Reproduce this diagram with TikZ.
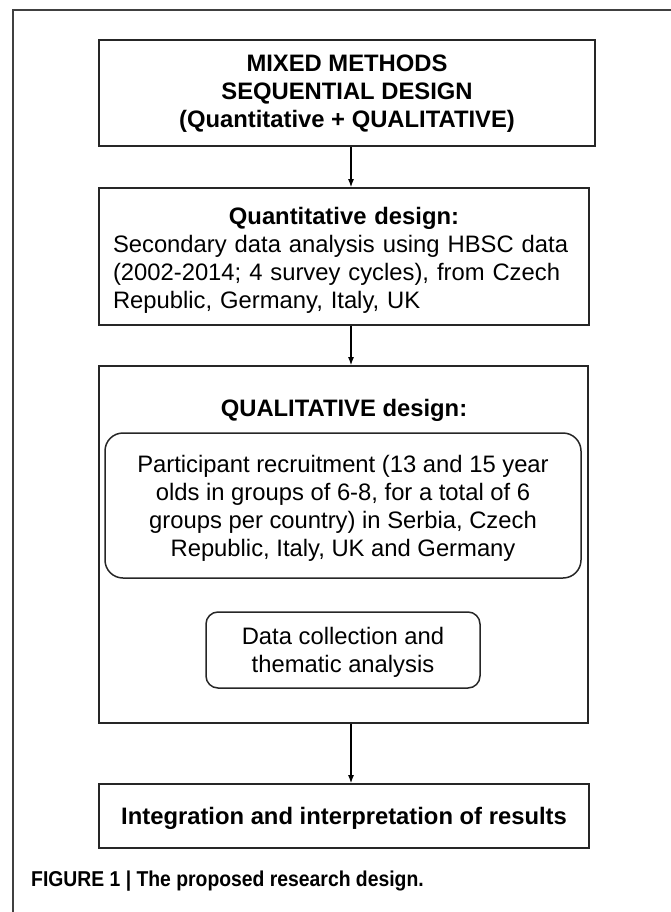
\documentclass[tikz,border=0pt]{standalone}
\usepackage{fontspec}
\setmainfont{Liberation Sans}
\newfontfamily\capfont[FakeStretch=0.9]{Liberation Sans}
\usetikzlibrary{arrows.meta}
\begin{document}
\begin{tikzpicture}[x=1pt,y=-1pt,
  box/.style={draw=black!85, line width=1.7pt, rectangle, inner sep=0pt},
  rbox/.style={draw=black!85, line width=1.5pt, rectangle, inner sep=0pt},
  txt/.style={font=\fontsize{23.8}{28}\selectfont, align=center, inner sep=0pt},
  btxt/.style={font=\fontsize{23.8}{28}\selectfont\bfseries, align=center, inner sep=0pt},
  arr/.style={draw=black, line width=1.2pt, -{Latex[length=8pt,width=6pt]}}]
\useasboundingbox (0,0) rectangle (671,912);
% outer frame
\draw[black!75, line width=1.6pt] (13,915) -- (13,10) -- (675,10);
% boxes
\node[box, minimum width=496pt, minimum height=106pt] (b1) at (347,93) {};
\node[btxt] (t1) at (347,94) {MIXED METHODS\\SEQUENTIAL DESIGN\\(Quantitative + QUALITATIVE)};
\node[box, minimum width=490pt, minimum height=137pt] (b2) at (344,256.5) {};
\node[txt, text width=462pt, align=left] (t2) at (344,260) {\makebox[\linewidth]{\bfseries Quantitative design:}\\Secondary data analysis using HBSC data\\(2002-2014; 4 survey cycles), from Czech\\Republic, Germany, Italy, UK};
\node[box, minimum width=489pt, minimum height=357pt] (b3) at (343.5,544.5) {};
\node[btxt] (t3) at (344,410) {QUALITATIVE design:};
\node[rbox, rounded corners=18pt, minimum width=476pt, minimum height=145pt] (p) at (343,505.5) {};
\node[txt] (pt) at (343,508) {Participant recruitment (13 and 15 year\\olds in groups of 6-8, for a total of 6\\groups per country) in Serbia, Czech\\Republic, Italy, UK and Germany};
\node[rbox, rounded corners=12pt, minimum width=274pt, minimum height=76pt] (d) at (343,650) {};
\node[txt] (dt) at (343,652) {Data collection and\\thematic analysis};
\node[box, minimum width=490pt, minimum height=64pt] (b4) at (344,816) {};
\node[btxt] (t4) at (344,818) {Integration and interpretation of results};
% arrows
\coordinate (ax) at (351,0);
\draw[arr] (b1.south -| ax) -- (b2.north -| ax);
\draw[arr] (b2.south -| ax) -- (b3.north -| ax);
\draw[arr] (b3.south -| ax) -- (b4.north -| ax);
% caption
\node[anchor=west, inner sep=0pt, font=\capfont\bfseries\fontsize{21.5}{25}\selectfont] (cap) at (31,881) {FIGURE 1 | The proposed research design.};
\end{tikzpicture}
\end{document}
